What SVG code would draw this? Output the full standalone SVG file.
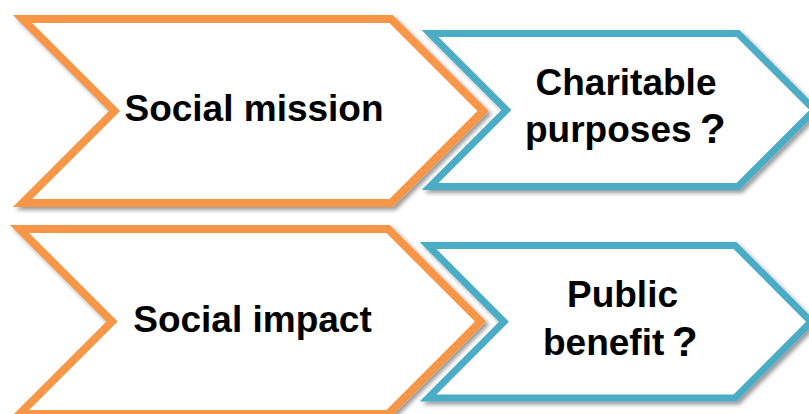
<svg xmlns="http://www.w3.org/2000/svg" width="809" height="414" viewBox="0 0 809 414">
  <defs>
    <filter id="shadow" x="-10%" y="-10%" width="130%" height="130%">
      <feDropShadow dx="3" dy="3" stdDeviation="2" flood-color="#000" flood-opacity="0.4"/>
    </filter>
    <style>
      .orange { fill: #FFFFFF; stroke: #F79646; stroke-width: 8; stroke-linejoin: miter; filter: url(#shadow); }
      .blue { fill: #FFFFFF; stroke: #4BACC6; stroke-width: 7; stroke-linejoin: miter; filter: url(#shadow); }
      .label { font-family: "Liberation Sans", Arial, sans-serif; font-weight: bold; font-size: 37px; fill: #000000; text-anchor: middle; }
      .start { text-anchor: start; }
      .q { font-size: 42px; }
    </style>
  </defs>
  <rect width="809" height="414" fill="#FFFFFF"/>
  <g id="connectors"></g>
  <g id="charitable-purposes">
    <polygon class="blue" points="430,33.5 738,33.5 814.5,110 738,186.5 430,186.5 506.5,110"/>
    <text class="label" x="626" y="95">Charitable</text>
    <text class="label start" x="525" y="142">purposes<tspan class="q" x="700" y="143">?</tspan></text>
  </g>
  <g id="social-mission">
    <polygon class="orange" points="22.5,19 391,19 483,111 391,203 22.5,203 114.5,111"/>
    <text class="label" x="254" y="121">Social mission</text>
  </g>
  <g id="public-benefit">
    <polygon class="blue" points="428,245.5 735,245.5 811,321.75 735,398 428,398 504,321.75"/>
    <text class="label" x="622.5" y="307">Public</text>
    <text class="label start" x="543" y="355">benefit<tspan class="q" x="672" y="356">?</tspan></text>
  </g>
  <g id="social-impact">
    <polygon class="orange" points="19.5,229 388,229 480.5,321.5 388,414 19.5,414 112,321.5"/>
    <text class="label" x="252.5" y="332">Social impact</text>
  </g>
</svg>
